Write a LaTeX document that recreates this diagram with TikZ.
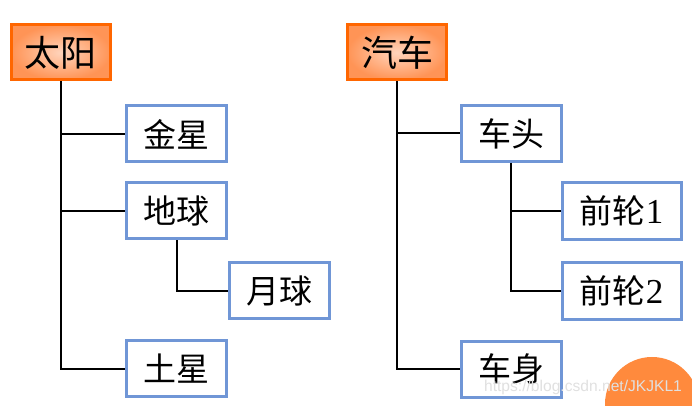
\documentclass[tikz,border=0pt]{standalone}
\usepackage{fontspec}
\newfontfamily\cjk{Noto Sans CJK SC}
\newfontfamily\digits{Liberation Serif}
\usetikzlibrary{positioning}
\definecolor{rootline}{HTML}{FF6600}
\definecolor{rootin}{HTML}{FFD4BC}
\definecolor{rootout}{HTML}{FF9456}
\definecolor{boxline}{HTML}{7096D6}
\definecolor{markorange}{HTML}{FF8A3D}
\tikzstyle{root} = [rectangle, minimum width=49.5pt, minimum height=27.5pt, inner sep=0pt, draw=rootline, line width=1.5pt, inner color=rootin, outer color=rootout, font=\cjk\fontsize{18}{18}\selectfont]
\tikzstyle{block} = [rectangle, minimum width=50pt, minimum height=28pt, inner sep=0pt, draw=boxline, line width=1.5pt, fill=white, font=\cjk\fontsize{16.5}{16.5}\selectfont]
\tikzstyle{wideblock} = [block, minimum width=59.5pt, minimum height=28.5pt]
\tikzstyle{branch} = [line width=1pt, black]

\begin{document}
\begin{tikzpicture}[x=0.5pt, y=-0.5pt]
        \clip (0,0) rectangle (692,406);

        % sun tree
        \node (taiyang) [root] at (61,52.5) {太阳};
        \node (jinxing) [block] at (176.5,134) {金星};
        \node (diqiu) [block, below=9pt of jinxing] {地球};
        \node (yueqiu) [block, below right=10.5pt and 0pt of diqiu.south east] {月球};
        \node (tuxing) [block, below=49.5pt of diqiu] {土星};

        % car tree
        \node (qiche) [root, right=117pt of taiyang] {汽车};
        \node (chetou) [block] at (511,133.5) {车头};
        \node (qianlun1) [wideblock, below right=9pt and -1pt of chetou.south east] {前轮{\digits\fontsize{17.5}{17.5}\selectfont 1}};
        \node (qianlun2) [wideblock, below=10pt of qianlun1] {前轮{\digits\fontsize{17.5}{17.5}\selectfont 2}};
        \node (cheshen) [block, below=88.5pt of chetou] {车身};

        \draw [branch] (taiyang.south) |- (jinxing.west);
        \draw [branch] (taiyang.south) |- (diqiu.west);
        \draw [branch] (taiyang.south) |- (tuxing.west);
        \draw [branch] (diqiu.south) |- (yueqiu.west);
        \draw [branch] (qiche.south) |- (chetou.west);
        \draw [branch] (qiche.south) |- (cheshen.west);
        \draw [branch] (chetou.south) |- (qianlun1.west);
        \draw [branch] (chetou.south) |- (qianlun2.west);

        % watermark
        \fill [markorange] (652,404) circle (23.5pt);
        \node (mark) [text=black!12, font=\fontspec{Liberation Sans}\fontsize{7.8}{8}\selectfont] at (583,387) {https://blog.csdn.net/JKJKL1};
    \end{tikzpicture}
\end{document}
